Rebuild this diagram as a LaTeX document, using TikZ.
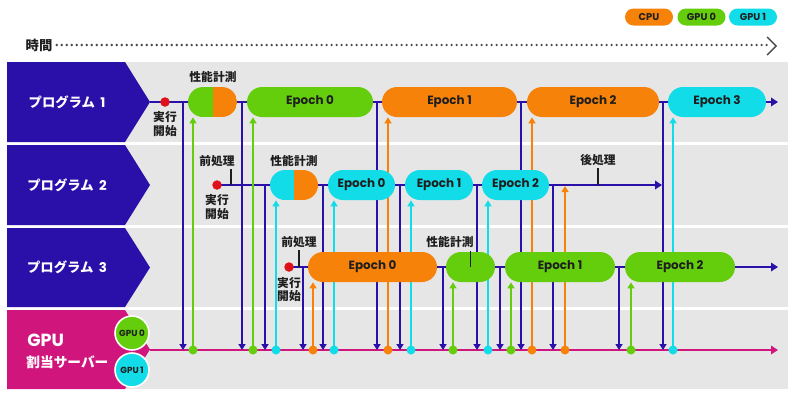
\documentclass[tikz,border=0pt]{standalone}
\usepackage{fontspec}
\usetikzlibrary{arrows.meta}
\newfontfamily\jp{Noto Sans CJK JP}
\newfontfamily\pop{Poppins}
\definecolor{navy}{HTML}{2A10A8}
\definecolor{corange}{HTML}{F7820A}
\definecolor{cgreen}{HTML}{64CE0C}
\definecolor{ccyan}{HTML}{12DCE8}
\definecolor{cmag}{HTML}{D0157D}
\definecolor{cred}{HTML}{E0101A}
\definecolor{band}{HTML}{E6E6E6}
\definecolor{txt}{HTML}{1E1E1E}
\definecolor{dotc}{HTML}{4A4A4A}
\pgfdeclarelayer{bg}
\pgfdeclarelayer{mid}
\pgfsetlayers{bg,mid,main}
\tikzset{
  pill/.style={rounded corners=0.3cm, minimum height=0.6cm, inner sep=0pt,
    font=\pop\bfseries\fontsize{6.8}{8}\selectfont, text=txt},
  pw/.style={minimum width=#1*0.02cm},
  splitpill/.style 2 args={pill, path picture={
    \fill[#1, sharp corners] (path picture bounding box.south west) rectangle (path picture bounding box.north);
    \fill[#2, sharp corners] (path picture bounding box.south) rectangle (path picture bounding box.north east);}},
  legpill/.style={rounded corners=0.17cm, minimum height=0.34cm, minimum width=0.96cm, inner sep=0pt,
    font=\pop\bfseries\fontsize{5.6}{6}\selectfont, text=txt},
  lbl/.style={font=\jp\bfseries\fontsize{6.7}{7.5}\selectfont, text=txt, inner sep=0pt, align=center},
  ptitle/.style={font=\jp\bfseries\fontsize{7.6}{9}\selectfont, text=white, inner sep=0pt},
  tl/.style={draw=navy, line width=1.4pt, -{Triangle[width=0.17cm,length=0.14cm]}},
  dn/.style={draw=navy, line width=1.1pt, -{Triangle[width=0.14cm,length=0.12cm]}},
  uparr/.style={line width=1.1pt, -{Triangle[width=0.14cm,length=0.12cm]}},
  gdot/.style={circle, inner sep=0pt, minimum size=0.18cm},
  rdot/.style={circle, fill=cred, inner sep=0pt, minimum size=0.19cm},
  tickln/.style={draw=txt, line width=0.7pt},
  gcirc/.style={circle, draw=white, line width=0.9pt, minimum size=0.68cm, inner sep=0pt,
    font=\pop\bfseries\fontsize{5}{6}\selectfont, text=txt},
}
\begin{document}
\begin{tikzpicture}[x=0.02cm,y=-0.02cm]
\useasboundingbox (0,0) rectangle (800,400);
% backgrounds
\begin{pgfonlayer}{bg}
\foreach \t/\b in {62/142,145/225,228/307,310/389}
  \fill[band] (7,\t) rectangle (788,\b);
\foreach \t/\b/\c in {62/142/navy,145/225/navy,228/307/navy,310/389/cmag}
  \fill[\c] (7,\t) -- (125,\t) -- (150,{(\t+\b)/2}) -- (125,\b) -- (7,\b) -- cycle;
\end{pgfonlayer}
% legend
\node[legpill, fill=corange] (lcpu) at (649,17) {CPU};
\node[legpill, fill=cgreen] (lg0) at (701.5,17) {GPU 0};
\node[legpill, fill=ccyan] (lg1) at (753,17) {GPU 1};
% time axis
\node[lbl, font=\jp\bfseries\fontsize{7.6}{9}\selectfont] (time) at (39,45) {時間};
\coordinate (tend) at (768,45);
\draw[dotc, line width=1.5pt, line cap=round, dash pattern=on 0pt off 0.1cm] ([xshift=0.08cm]time.east) -- (tend);
\coordinate (chev) at (776,46);
\draw[dotc, line width=0.8pt] (767,37) -- (chev) -- (767,55);
% titles
\node[ptitle] (n1) at (67,102) {プログラム\,~{\pop 1}};
\node[ptitle] (n2) at (67,185) {プログラム\,~{\pop 2}};
\node[ptitle] (n3) at (67,267) {プログラム\,~{\pop 3}};
\node[font=\pop\bfseries\fontsize{10}{10}\selectfont, text=white, inner sep=0pt, anchor=west] (ngpu) at (27,340) {GPU};
\node[font=\jp\bfseries\fontsize{7.8}{9}\selectfont, text=white, inner sep=0pt, anchor=west] (nsrv) at (26,362) {割当サーバー};
% pills row 1
\node[splitpill={cgreen}{corange}, pw=49] (p1m) at (212.5,102) {};
\node[pill, pw=126, fill=cgreen] (p1e0) at (310,102) {Epoch 0};
\node[pill, pw=135, fill=corange] (p1e1) at (449.5,102) {Epoch 1};
\node[pill, pw=132, fill=corange] (p1e2) at (593,102) {Epoch 2};
\node[pill, pw=98, fill=ccyan] (p1e3) at (717,102) {Epoch 3};
% pills row 2
\node[splitpill={ccyan}{corange}, pw=48] (p2m) at (294,185) {};
\node[pill, pw=67, fill=ccyan] (p2e0) at (361.5,185) {Epoch 0};
\node[pill, pw=68, fill=ccyan] (p2e1) at (439,185) {Epoch 1};
\node[pill, pw=67, fill=ccyan] (p2e2) at (515.5,185) {Epoch 2};
% pills row 3
\node[pill, pw=129, fill=corange] (p3e0) at (372.5,267) {Epoch 0};
\node[pill, pw=49, fill=cgreen] (p3m) at (470.5,267) {};
\node[pill, pw=110, fill=cgreen] (p3e1) at (560,267) {Epoch 1};
\node[pill, pw=110, fill=cgreen] (p3e2) at (680,267) {Epoch 2};
% timelines
\begin{pgfonlayer}{mid}
\coordinate (s1) at (150,102); \coordinate (e1) at (778,102);
\coordinate (s2) at (217,185); \coordinate (e2) at (662,185);
\coordinate (s3) at (289,267); \coordinate (e3) at (778,267);
\coordinate (sg) at (150,350); \coordinate (eg) at (778,350);
\draw[tl] (s1) -- (e1);
\draw[tl] (s2) -- (e2);
\draw[tl] (s3) -- (e3);
\draw[tl, draw=cmag] (sg) -- (eg);
% down verticals
\foreach \x/\y in {183/102,242/102,377/102,521/102,663/102,
                   265/185,323/185,400/185,477/185,553/185,
                   303/267,443/267,500/267,619/267}{
  \coordinate (t\x) at (\x,\y);
  \draw[dn] (t\x) -- (t\x |- sg);
}
% up arrows
\foreach \x/\c/\p in {193/cgreen/p1m,253/cgreen/p1e0,388/corange/p1e1,532/corange/p1e2,673/ccyan/p1e3,
                      276/ccyan/p2m,334/ccyan/p2e0,411/ccyan/p2e1,488/ccyan/p2e2,
                      313/corange/p3e0,453/cgreen/p3m,511/cgreen/p3e1,631/cgreen/p3e2}{
  \coordinate (g\x) at (\x,350);
  \draw[uparr, draw=\c] (g\x) -- (g\x |- \p.south);
  \node[gdot, fill=\c] at (g\x) {};
}
\coordinate (g565) at (565,350);
\coordinate (post) at (565,186);
\draw[uparr, draw=corange] (g565) -- (post);
\node[gdot, fill=corange] at (g565) {};
\end{pgfonlayer}
% start dots and labels
\node[rdot] (r1) at (165,102) {};
\node[rdot] (r2) at (217,185) {};
\node[rdot] (r3) at (289,267) {};
\node[lbl] (k1) at (165,124) {実行\\開始};
\node[lbl] (k2) at (217,207) {実行\\開始};
\node[lbl] (k3) at (289,289.5) {実行\\開始};
\node[lbl] (m1) at (213,77) {性能計測};
\node[lbl] (m2) at (294,161) {性能計測};
\node[lbl] (m3) at (450,242) {性能計測};
\draw[tickln] ([yshift=-0.05cm]m3.south -| p3m.center) -- (p3m.center);
\node[lbl] (pre2) at (217,161) {前処理};
\coordinate (pre2t) at (231,185);
\draw[tickln] ([yshift=-0.04cm]pre2.south -| pre2t) -- (pre2t);
\node[lbl] (pre3) at (299,242) {前処理};
\draw[tickln] ([yshift=-0.04cm]pre3.south) -- (pre3.south |- s3);
\node[lbl] (post2) at (598,160) {後処理};
\draw[tickln] ([yshift=-0.04cm]post2.south) -- (post2.south |- s2);
% GPU circles
\node[gcirc, fill=cgreen] (c0) at (132,333) {GPU\,0};
\node[gcirc, fill=ccyan] (c1) at (132,370) {GPU\,1};
\end{tikzpicture}
\end{document}
